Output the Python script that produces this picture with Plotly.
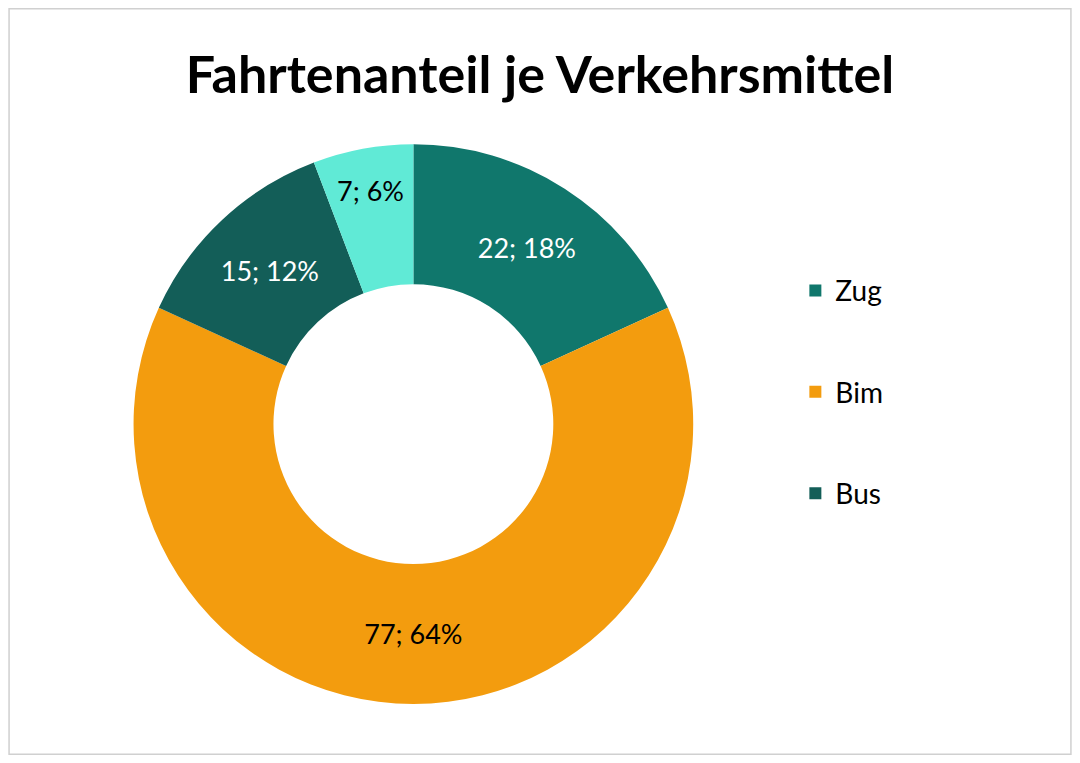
import plotly.graph_objects as go

labels = ["Zug", "Bim", "Bus", "Sonstige"]
values = [22, 77, 15, 7]
colors = ["#10776C", "#F39C0E", "#135E58", "#60EAD6"]
text_colors = ["white", "black", "white", "black"]
legend_items = ["Zug", "Bim", "Bus"]

fig = go.Figure()
fig.add_trace(go.Pie(
    labels=labels, values=values, hole=0.5, sort=False, direction="clockwise",
    rotation=0, marker=dict(colors=colors), showlegend=False,
    texttemplate="%{value}; %{percent:.0%}", textposition="inside",
    insidetextorientation="horizontal",
    textfont=dict(size=27, color=text_colors, family="Lato"),
    domain=dict(x=[0.118, 0.644], y=[0.068, 0.818]),
))
for i, name in enumerate(legend_items):
    fig.add_trace(go.Scatter(
        x=[None], y=[None], mode="markers", name=name, legendgroup=name,
        marker=dict(symbol="square", size=22, color=colors[i]),
    ))

fig.update_layout(
    width=1064, height=747, margin=dict(l=0, r=0, t=0, b=0),
    paper_bgcolor="white", plot_bgcolor="white",
    title=dict(text="<b>Fahrtenanteil je Verkehrsmittel</b>", x=0.5, xanchor="center",
               y=0.91, yanchor="middle", font=dict(size=52, family="Lato", color="black")),
    legend=dict(x=0.74, y=0.655, yanchor="top", tracegroupgap=62,
                font=dict(size=28, family="Lato", color="black"), itemsizing="constant"),
    xaxis=dict(visible=False), yaxis=dict(visible=False),
    shapes=[dict(type="rect", xref="paper", yref="paper", x0=0.001, x1=0.999, y0=0.001, y1=0.999,
                 line=dict(color="#D0D0D0", width=1.5))],
)
fig.write_html("out.html")
